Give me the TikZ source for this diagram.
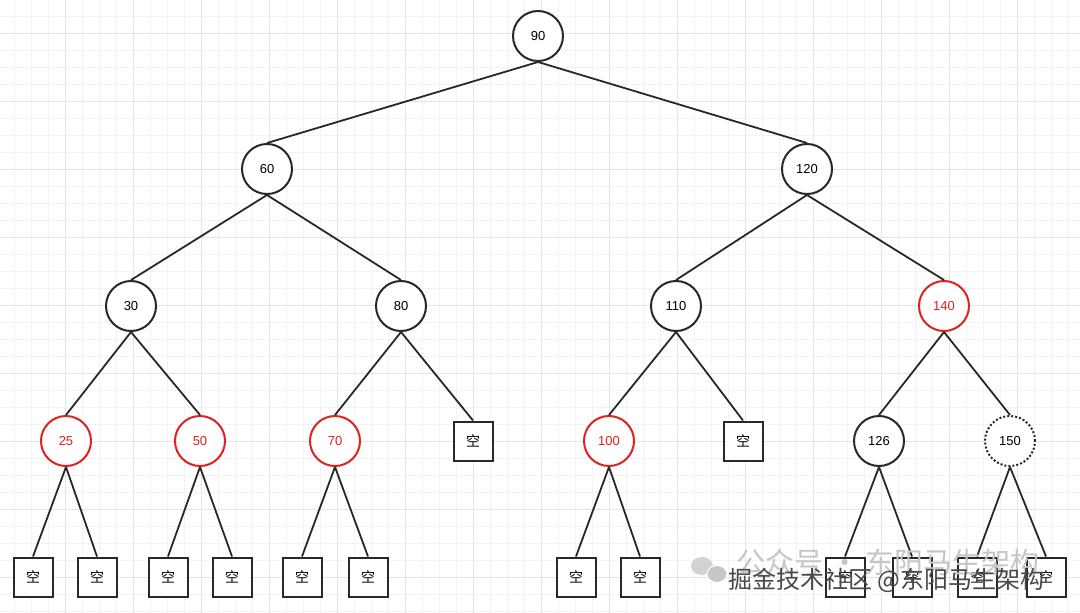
\documentclass[tikz,border=0pt]{standalone}
\usepackage{fontspec}
\setmainfont{Liberation Sans}
\newfontfamily\cjk{Noto Sans CJK SC}
\definecolor{rbred}{RGB}{225,32,32}
\definecolor{ink}{RGB}{40,40,40}
\definecolor{gridlo}{RGB}{243,243,243}
\definecolor{gridhi}{RGB}{228,228,228}

\begin{document}
\begin{tikzpicture}[x=1pt,y=-1pt,
    every node/.style={font=\fontsize{13}{15}\selectfont},
    blk/.style={circle,draw=ink,line width=2pt,minimum size=50pt,inner sep=0pt,fill=white},
    rednd/.style={blk,draw=rbred,text=rbred},
    ghost/.style={blk,dotted},
    nil/.style={rectangle,draw=ink,line width=2pt,minimum size=39pt,inner sep=0pt,fill=white,
        font=\cjk\fontsize{14}{16}\selectfont},
    link/.style={draw=ink,line width=1.8pt}]
    \useasboundingbox (0,0) rectangle (1080,613);
    \fill[white] (0,0) rectangle (1080,613);
    % grid
    \foreach \x in {-3,14,...,1080} \draw[gridlo,line width=0.7pt] (\x,0) -- (\x,613);
    \foreach \y in {-1,16,...,613} \draw[gridlo,line width=0.7pt] (0,\y) -- (1080,\y);
    \foreach \x in {65,133,...,1080} \draw[gridhi,line width=0.8pt] (\x,0) -- (\x,613);
    \foreach \y in {33,101,...,613} \draw[gridhi,line width=0.8pt] (0,\y) -- (1080,\y);

    % tree
    \node[blk](n90) at (538,36) {90};
    \node[blk](n60) at (267,169) {60};
    \node[blk](n120) at (807,169) {120};
    \node[blk](n30) at (131,306) {30};
    \node[blk](n80) at (401,306) {80};
    \node[blk](n110) at (676,306) {110};
    \node[rednd](n140) at (944,306) {140};
    \node[rednd](n25) at (66,441) {25};
    \node[rednd](n50) at (200,441) {50};
    \node[rednd](n70) at (335,441) {70};
    \node[nil](k80) at (473,441) {空};
    \node[rednd](n100) at (609,441) {100};
    \node[nil](k110) at (743,441) {空};
    \node[blk](n126) at (879,441) {126};
    \node[ghost](n150) at (1010,441) {150};
    \node[nil](k25a) at (33,577) {空};
    \node[nil](k25b) at (97,577) {空};
    \node[nil](k50a) at (168,577) {空};
    \node[nil](k50b) at (232,577) {空};
    \node[nil](k70a) at (302,577) {空};
    \node[nil](k70b) at (368,577) {空};
    \node[nil](k100a) at (576,577) {空};
    \node[nil](k100b) at (640,577) {空};
    \node[nil](k126a) at (845,577) {空};
    \node[nil](k126b) at (912,577) {空};
    \node[nil](k150a) at (977,577) {空};
    \node[nil](k150b) at (1046,577) {空};

    \foreach \p/\c in {n90/n60,n90/n120,n60/n30,n60/n80,n120/n110,n120/n140,
        n30/n25,n30/n50,n80/n70,n80/k80,n110/n100,n110/k110,n140/n126,n140/n150,
        n25/k25a,n25/k25b,n50/k50a,n50/k50b,n70/k70a,n70/k70b,n100/k100a,n100/k100b,
        n126/k126a,n126/k126b,n150/k150a,n150/k150b}
        \draw[link](\p.south) -- (\c.north);

    % watermark
    \fill[gray!35] (702,566) ellipse (11pt and 9pt);
    \fill[gray!45,draw=white,line width=1pt] (717,574) ellipse (10pt and 8.5pt);
    \node[anchor=west,text=gray!45,font=\cjk\fontsize{29}{31}\selectfont](wm1) at (733,562) {公众号 · 东阳马生架构};
    \node[anchor=west,text=ink!85,font=\cjk\fontsize{24}{26}\selectfont](wm2) at (725,580) {掘金技术社区 @东阳马生架构};
\end{tikzpicture}
\end{document}
